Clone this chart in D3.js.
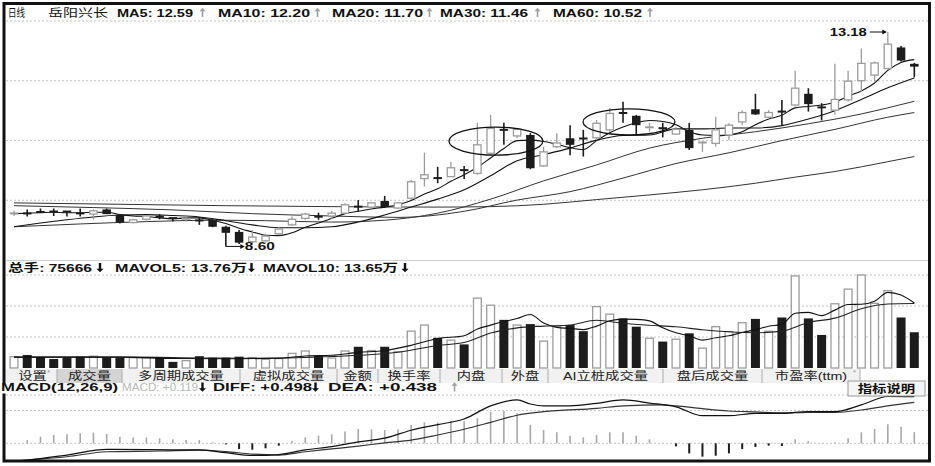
<!DOCTYPE html>
<html><head><meta charset="utf-8">
<script src="https://cdn.jsdelivr.net/npm/d3@7"></script>
<style>body{margin:0;background:#fff}svg{display:block}</style>
</head><body>
<svg id="c" width="935" height="466"></svg>
<script>
// ---------- data ----------
const opens  = [9.30,9.31,9.34,9.35,9.35,9.31,9.29,9.39,9.27,9.11,9.18,9.24,9.21,9.18,9.16,9.17,9.02,8.91,8.70,8.72,8.87,9.06,9.20,9.24,9.25,9.31,9.46,9.44,9.57,9.42,9.63,10.05,10.07,10.09,10.24,10.16,10.59,11.10,10.96,10.98,10.32,10.73,10.91,10.92,10.92,11.09,11.46,11.39,11.14,11.13,11.00,11.09,10.81,10.80,10.98,11.26,11.53,11.36,11.49,11.62,11.86,11.58,11.51,11.73,12.14,12.26,12.40,12.85,12.50];
const highs  = [9.36,9.39,9.41,9.41,9.35,9.41,9.39,9.41,9.29,9.19,9.27,9.29,9.21,9.25,9.22,9.20,9.04,8.95,8.95,8.87,9.02,9.24,9.32,9.32,9.36,9.52,9.59,9.55,9.68,9.55,10.02,10.60,10.30,10.41,10.32,11.24,11.41,11.24,11.12,11.02,10.73,11.02,11.19,11.09,11.30,11.56,11.69,11.41,11.24,11.24,11.15,11.24,10.84,11.37,11.23,11.51,11.86,11.51,11.73,12.35,11.98,11.66,12.50,12.35,12.83,12.55,13.18,12.88,12.52];
const lows   = [9.25,9.24,9.32,9.25,9.24,9.24,9.17,9.29,9.09,9.09,9.15,9.18,9.13,9.13,9.06,9.01,8.60,8.65,8.67,8.68,8.84,9.04,9.17,9.17,9.19,9.31,9.34,9.42,9.42,9.40,9.59,9.88,9.95,10.09,10.04,10.13,10.55,10.77,10.91,10.25,10.30,10.70,10.55,10.52,10.87,11.05,11.24,10.98,11.05,10.93,10.98,10.66,10.62,10.73,10.87,11.19,11.41,11.32,11.19,11.59,11.48,11.29,11.41,11.69,11.90,12.12,12.38,12.55,12.21];
const closes = [9.31,9.30,9.33,9.34,9.34,9.30,9.36,9.29,9.11,9.17,9.25,9.23,9.20,9.20,9.15,9.02,8.89,8.68,8.80,8.82,8.97,9.18,9.29,9.23,9.31,9.49,9.44,9.53,9.44,9.53,9.98,10.13,10.05,10.28,10.22,10.77,11.12,11.08,11.10,10.27,10.62,10.81,10.77,10.89,11.23,11.44,11.44,11.19,11.15,11.12,11.10,10.70,10.83,11.09,11.19,11.46,11.42,11.46,11.47,11.98,11.64,11.56,11.74,12.13,12.51,12.52,12.92,12.57,12.44];
// volume, in 万手
const volumes = [2.4,2.75,2.3,1.9,2.2,2.4,2.5,2.2,2.2,2.2,2.2,2.2,1.3,1.55,2.5,2.2,2.2,2.4,2.2,1.85,2.0,3.1,3.6,2.6,2.1,3.6,4.5,3.7,4.5,3.45,7.8,9.1,6.4,5.9,5.0,14.8,13.3,10.2,9.1,9.3,5.7,8.75,9.1,7.8,13.0,11.4,10.5,8.75,6.3,5.6,6.1,7.35,4.2,8.75,7.7,9.6,10.4,7.8,10.7,19.5,10.5,7.0,13.6,16.7,19.7,13.7,16.4,10.7,7.57];
// moving averages: [candle index, value]
const ma5  = [[0,9.30],[1,9.31],[2,9.32],[3,9.33],[4,9.32],[5,9.32],[6,9.33],[7,9.33],[8,9.28],[9,9.25],[10,9.24],[11,9.21],[12,9.19],[13,9.21],[14,9.21],[15,9.16],[16,9.09],[17,8.99],[18,8.91],[19,8.84],[20,8.83],[21,8.89],[22,9.01],[23,9.10],[24,9.20],[25,9.30],[26,9.35],[27,9.40],[28,9.44],[29,9.49],[30,9.58],[31,9.72],[32,9.83],[33,9.99],[34,10.13],[35,10.29],[36,10.49],[37,10.69],[38,10.86],[39,10.87],[40,10.84],[41,10.78],[42,10.71],[43,10.67],[44,10.86],[45,11.03],[46,11.15],[47,11.24],[48,11.29],[49,11.27],[50,11.20],[51,11.05],[52,10.98],[53,10.97],[54,10.98],[55,11.05],[56,11.20],[57,11.32],[58,11.40],[59,11.56],[60,11.59],[61,11.62],[62,11.68],[63,11.81],[64,11.92],[65,12.09],[66,12.36],[67,12.53],[68,12.59]];
const ma10 = [[0,9.02],[2,9.10],[4,9.17],[6,9.23],[8,9.27],[10,9.28],[12,9.26],[14,9.23],[16,9.15],[18,9.06],[20,9.00],[22,9.00],[24,9.02],[26,9.12],[28,9.27],[30,9.44],[32,9.61],[34,9.81],[36,10.11],[38,10.43],[40,10.56],[42,10.70],[44,10.87],[46,10.97],[48,10.98],[50,11.11],[52,11.11],[54,11.13],[56,11.13],[58,11.18],[60,11.32],[62,11.50],[64,11.74],[66,11.99],[68,12.20]];
const ma20 = [[0,9.02],[5,9.08],[10,9.13],[15,9.16],[19,9.15],[24,9.12],[28,9.16],[32,9.31],[36,9.61],[40,10.00],[44,10.34],[48,10.70],[52,10.91],[56,11.05],[60,11.22],[64,11.43],[66,11.56],[68,11.70]];
const ma30 = [[0,9.47],[6,9.43],[12,9.38],[18,9.30],[24,9.25],[29,9.22],[34,9.35],[38,9.59],[42,9.77],[46,10.06],[50,10.37],[54,10.60],[58,10.86],[62,11.10],[66,11.36],[68,11.46]];
const ma60 = [[0,9.53],[8,9.50],[16,9.47],[24,9.45],[32,9.44],[36,9.45],[40,9.50],[44,9.60],[48,9.70],[52,9.81],[56,9.95],[59,10.08],[62,10.20],[64,10.30],[66,10.41],[68,10.52]];
const mavol5  = [[0,2.3],[4,2.3],[8,2.3],[12,2.0],[16,1.95],[20,2.1],[22,2.55],[24,2.7],[26,3.3],[28,3.7],[30,4.8],[32,6.25],[34,6.84],[35,8.24],[36,9.08],[37,9.84],[38,10.48],[39,11.34],[40,9.52],[41,8.61],[42,8.39],[43,8.13],[44,8.87],[45,10.01],[46,10.36],[47,10.29],[48,9.99],[49,8.51],[50,7.45],[51,6.82],[52,5.91],[53,6.4],[54,6.82],[55,7.52],[56,8.13],[57,8.85],[58,9.24],[59,11.6],[60,11.78],[61,11.1],[62,12.26],[63,13.46],[64,13.5],[65,14.14],[66,16.02],[67,15.44],[68,13.76]];
const mavol10 = [[0,2.3],[5,2.3],[9,2.31],[14,2.13],[19,2.06],[24,2.43],[29,3.32],[32,4.78],[34,5.4],[36,7.4],[38,8.5],[40,8.88],[42,9.12],[44,10.1],[46,9.49],[48,9.06],[50,8.73],[52,8.1],[54,7.67],[56,7.48],[58,7.82],[60,9.65],[62,10.56],[64,12.55],[66,13.56],[68,13.65]];
// MACD
const macdBar = [0,0.036,0.071,0.089,0.096,0.107,0.114,0.10,0.071,0.061,0.061,0.053,0.043,0.036,0.036,0.011,-0.011,-0.061,-0.068,-0.053,-0.025,0.025,0.064,0.082,0.096,0.125,0.153,0.150,0.142,0.150,0.196,0.224,0.224,0.239,0.239,0.267,0.338,0.345,0.32,0.196,0.142,0.118,0.082,0.064,0.089,0.118,0.118,0.082,0.043,0.004,-0.032,-0.107,-0.142,-0.132,-0.107,-0.061,-0.039,-0.025,-0.028,0.043,0.025,0.004,0.011,0.053,0.118,0.153,0.203,0.178,0.119];
const diff = [[0,-0.19],[1,-0.178],[4,-0.125],[7,-0.065],[10,-0.068],[14,-0.07],[16,-0.10],[18,-0.13],[20,-0.12],[22,-0.07],[24,-0.035],[26,0.015],[28,0.055],[30,0.14],[32,0.20],[34,0.26],[36,0.40],[38,0.463],[39,0.42],[40,0.40],[42,0.40],[44,0.427],[46,0.463],[48,0.43],[50,0.39],[52,0.295],[54,0.295],[56,0.32],[58,0.32],[60,0.34],[62,0.338],[64,0.41],[66,0.50],[68,0.498]];
const dea  = [[0,-0.19],[1,-0.178],[4,-0.143],[7,-0.09],[11,-0.082],[14,-0.072],[16,-0.088],[18,-0.115],[20,-0.125],[22,-0.09],[24,-0.06],[26,-0.03],[28,0.005],[30,0.035],[32,0.089],[34,0.15],[36,0.224],[38,0.30],[40,0.338],[44,0.374],[46,0.40],[49,0.41],[50,0.40],[52,0.37],[54,0.345],[56,0.335],[58,0.325],[60,0.33],[62,0.33],[64,0.356],[66,0.40],[68,0.438]];
// annotations
const maxMark = {idx:66, price:13.18, label:"13.18"};
const minMark = {idx:16, price:8.60, label:"8.60"};
const ellipses = [{idx:36.4, price:10.85, rIdx:3.55, rPrice:0.30},{idx:46.45, price:11.26, rIdx:3.47, rPrice:0.28}];
// header texts (arrow: u = up/gray, d = down/black)
const mainHeader = [
  {t:"日线",x:8,w:17,b:false},{t:"岳阳兴长",x:48,w:60,b:false},
  {t:"MA5: 12.59",x:117,w:76},{a:"u",x:202.5},
  {t:"MA10: 12.20",x:218,w:92},{a:"u",x:317.5},
  {t:"MA20: 11.70",x:332,w:91},{a:"u",x:429.5},
  {t:"MA30: 11.46",x:440,w:88},{a:"u",x:537.5},
  {t:"MA60: 10.52",x:553,w:89},{a:"u",x:650}];
const volHeader = [
  {t:"总手: 75666",x:8,w:84},{a:"d",x:100},
  {t:"MAVOL5: 13.76万",x:115,w:132},{a:"d",x:251.5},
  {t:"MAVOL10: 13.65万",x:263,w:135},{a:"d",x:405}];
const macdHeader = [
  {t:"MACD(12,26,9)",x:1,w:117},{t:"MACD: +0.119",x:122,w:76,c:"#b8b8b8",b:false},{a:"d",x:202.5},
  {t:"DIFF: +0.498",x:213,w:99},{a:"d",x:315.5},
  {t:"DEA: +0.438",x:328,w:109},{a:"u",x:454.5}];
const tabs = ["设置","成交量","多周期成交量","虚拟成交量","金额","换手率","内盘","外盘","AI立桩成交量","盘后成交量","市盈率(ttm)"];
const tabEdges = [8,57,122,240,337,378,440,502,548,663,762,860];

// ---------- drawing ----------
const svg = d3.select("#c");
const N = closes.length;
const FONT = "'Liberation Sans','Noto Sans CJK SC',Arial,sans-serif";
const x = d3.scaleLinear().domain([0, N-1]).range([14, 914.3]);
const yP = d3.scaleLinear().domain([8.31, 13.415]).range([260, 21]);
const yV = d3.scaleLinear().domain([0, 19.7]).range([368, 275]);
const yM = d3.scaleLinear().domain([-0.178, 0.516]).range([460, 395]);
const L = 6, R = 928;
const GRAY = "#9c9c9c", DARK = "#1c1c1c";

function dotted(y){ svg.append("line").attr("x1",L).attr("x2",R).attr("y1",y).attr("y2",y)
  .attr("stroke","#c4c4c4").attr("stroke-width",1).attr("stroke-dasharray","2,2"); }

// grid: main
const pd = yP.domain();
d3.range(4).forEach(k => dotted(yP(pd[1] - k*(pd[1]-pd[0])/4)));
svg.append("line").attr("x1",L).attr("x2",R).attr("y1",260.5).attr("y2",260.5).attr("stroke","#d0d0d0");
// grid: volume
const vd = yV.domain();
[1,2,3].forEach(k => dotted(yV(vd[1]*k/3)));
// grid: macd
dotted(yM(0)); dotted(yM(0.35)); dotted(395);

// MA lines
const lineP = d3.line().x(d=>x(d[0])).y(d=>yP(d[1])).curve(d3.curveMonotoneX);
[[ma60,"#333",1],[ma30,"#333",1],[ma20,"#333",1],[ma10,"#111",1.1],[ma5,"#111",1.1]].forEach(([d,c,w])=>{
  svg.append("path").attr("d",lineP(d)).attr("fill","none").attr("stroke",c).attr("stroke-width",w);
});

// candles
const bw = 8.5;
const cg = svg.append("g");
d3.range(N).forEach(i=>{
  const o=opens[i], c=closes[i], h=highs[i], l=lows[i];
  const down = c < o;
  const col = down ? DARK : GRAY;
  const top = yP(Math.max(o,c)), bot = yP(Math.min(o,c));
  const cx = x(i);
  cg.append("line").attr("x1",cx).attr("x2",cx).attr("y1",yP(h)).attr("y2",yP(l))
    .attr("stroke",col).attr("stroke-width",down?1.6:1.3);
  if (bot - top < 2.2) {
    cg.append("line").attr("x1",cx-bw/2).attr("x2",cx+bw/2).attr("y1",(top+bot)/2).attr("y2",(top+bot)/2)
      .attr("stroke",col).attr("stroke-width",2);
  } else if (down) {
    cg.append("rect").attr("x",cx-bw/2).attr("y",top).attr("width",bw).attr("height",bot-top).attr("fill",DARK);
  } else {
    cg.append("rect").attr("x",cx-bw/2+0.6).attr("y",top).attr("width",bw-1.2).attr("height",bot-top)
      .attr("fill","#fff").attr("stroke",GRAY).attr("stroke-width",1.3);
  }
});

// ellipses
ellipses.forEach(e=>{
  svg.append("ellipse").attr("cx",x(e.idx)).attr("cy",yP(e.price))
    .attr("rx",x(e.idx+e.rIdx)-x(e.idx)).attr("ry",yP(e.price-e.rPrice)-yP(e.price))
    .attr("fill","none").attr("stroke","#111").attr("stroke-width",1.3);
});

// max / min marks
{
  const mx = x(maxMark.idx), my = yP(maxMark.price);
  svg.append("text").attr("x",mx-58).attr("y",my).attr("dy","0.36em").attr("textLength",37).attr("lengthAdjust","spacingAndGlyphs")
    .attr("font-family",FONT).attr("font-weight","bold").attr("font-size",11).attr("fill","#111").text(maxMark.label);
  svg.append("line").attr("x1",mx-18).attr("x2",mx-2).attr("y1",my).attr("y2",my).attr("stroke","#111").attr("stroke-width",1);
  svg.append("path").attr("d",`M${mx-1},${my} l-4.5,-2.5 l0,5 z`).attr("fill","#111");
  const nx = x(minMark.idx), ny = yP(minMark.price);
  svg.append("line").attr("x1",nx).attr("x2",nx+17).attr("y1",ny).attr("y2",ny).attr("stroke","#111").attr("stroke-width",1);
  svg.append("path").attr("d",`M${nx+19},${ny} l-4.5,-2.5 l0,5 z`).attr("fill","#111");
  svg.append("text").attr("x",nx+19).attr("y",ny).attr("dy","0.36em").attr("textLength",30).attr("lengthAdjust","spacingAndGlyphs")
    .attr("font-family",FONT).attr("font-weight","bold").attr("font-size",11).attr("fill","#111").text(minMark.label);
}

// volume bars
const vg = svg.append("g");
d3.range(N).forEach(i=>{
  const down = closes[i] < opens[i];
  const cx = x(i), t = yV(volumes[i]), b = yV(0);
  if (down) vg.append("rect").attr("x",cx-4.5).attr("y",t).attr("width",9).attr("height",b-t).attr("fill",DARK);
  else vg.append("rect").attr("x",cx-3.9).attr("y",t).attr("width",7.8).attr("height",b-t)
        .attr("fill","#fff").attr("stroke",GRAY).attr("stroke-width",1.3);
});
const lineV = d3.line().x(d=>x(d[0])).y(d=>yV(d[1])).curve(d3.curveMonotoneX);
[[mavol10,"#222"],[mavol5,"#111"]].forEach(([d,c])=>{
  svg.append("path").attr("d",lineV(d)).attr("fill","none").attr("stroke",c).attr("stroke-width",1.1);
});

// MACD bars
d3.range(N).forEach(i=>{
  const v = macdBar[i]; if (!v) return;
  svg.append("line").attr("x1",x(i)).attr("x2",x(i)).attr("y1",yM(0)).attr("y2",yM(v))
    .attr("stroke", v>0 ? "#a8a8a8" : DARK).attr("stroke-width", v>0 ? 1.6 : 2);
});
const lineM = d3.line().x(d=>x(d[0])).y(d=>yM(d[1])).curve(d3.curveMonotoneX);
[[dea,"#333"],[diff,"#111"]].forEach(([d,c])=>{
  svg.append("path").attr("d",lineM(d)).attr("fill","none").attr("stroke",c).attr("stroke-width",1.2);
});

// tab bar
const tabG = svg.append("g");
tabG.append("rect").attr("x",L).attr("y",369).attr("width",tabEdges[tabEdges.length-1]-L).attr("height",14).attr("fill","#f1f1f1");
tabG.append("rect").attr("x",tabEdges[1]).attr("y",369).attr("width",tabEdges[2]-tabEdges[1]).attr("height",14).attr("fill","#d4d4d4");
tabEdges.slice(1).forEach(e=>tabG.append("line").attr("x1",e).attr("x2",e).attr("y1",369).attr("y2",383).attr("stroke","#aaa"));
tabs.forEach((t,k)=>{
  const el = tabG.append("text").attr("x",(tabEdges[k]+tabEdges[k+1])/2).attr("y",376).attr("dy","0.36em")
    .attr("text-anchor","middle").attr("font-family",FONT).attr("font-size",11).attr("fill","#222").text(t);
  const w = el.node().getComputedTextLength();
  el.attr("textLength", w*1.3).attr("lengthAdjust","spacingAndGlyphs");
});
[[47,"#999"],[853,"#999"]].forEach(([sx,c])=>tabG.append("text").attr("x",sx).attr("y",375).attr("font-family",FONT)
  .attr("font-size",8).attr("fill",c).text("*"));

// frame (drawn before headers so the MACD title can sit over its left edge)
svg.append("rect").attr("x",4).attr("y",3.5).attr("width",925.5).attr("height",457.5)
  .attr("fill","none").attr("stroke","#111").attr("stroke-width",3);

// arrows
function arrow(cx, cy, dir){
  const up = dir === "u";
  const s = up ? 1 : -1;
  const sw = up ? 0.8 : 1.2, hw = up ? 3 : 3.6;
  const tip = cy - s*4.8, neck = cy - s*1.2, tail = cy + s*4.5;
  svg.append("path").attr("d",`M${cx-sw},${tail} L${cx-sw},${neck} L${cx-hw},${neck} L${cx},${tip} L${cx+hw},${neck} L${cx+sw},${neck} L${cx+sw},${tail} Z`)
    .attr("fill", up ? "#a0a0a0" : "#111");
}
// headers
function header(items, yBase, size){
  items.forEach(d=>{
    if (d.a) { arrow(d.x, yBase-4, d.a); return; }
    svg.append("text").attr("x",d.x).attr("y",yBase).attr("font-family",FONT)
      .attr("font-weight", d.b===false ? "normal" : "bold").attr("font-size",size)
      .attr("fill", d.c || "#111").attr("textLength",d.w).attr("lengthAdjust","spacingAndGlyphs").text(d.t);
  });
}
header(mainHeader, 16.5, 11.5);
header(volHeader, 271.5, 11.5);
svg.append("rect").attr("x",0).attr("y",383.5).attr("width",470).attr("height",10).attr("fill","#fff");
header(macdHeader, 391, 11.5);

// button
svg.append("rect").attr("x",848).attr("y",381).attr("width",77).attr("height",15).attr("fill","#f6f6f6").attr("stroke","#999");
const bt = svg.append("text").attr("x",886.5).attr("y",388.5).attr("dy","0.36em").attr("text-anchor","middle")
  .attr("font-family",FONT).attr("font-weight","bold").attr("font-size",11.5).attr("fill","#111").text("指标说明");
bt.attr("textLength", bt.node().getComputedTextLength()*1.25).attr("lengthAdjust","spacingAndGlyphs");
</script>
</body></html>
